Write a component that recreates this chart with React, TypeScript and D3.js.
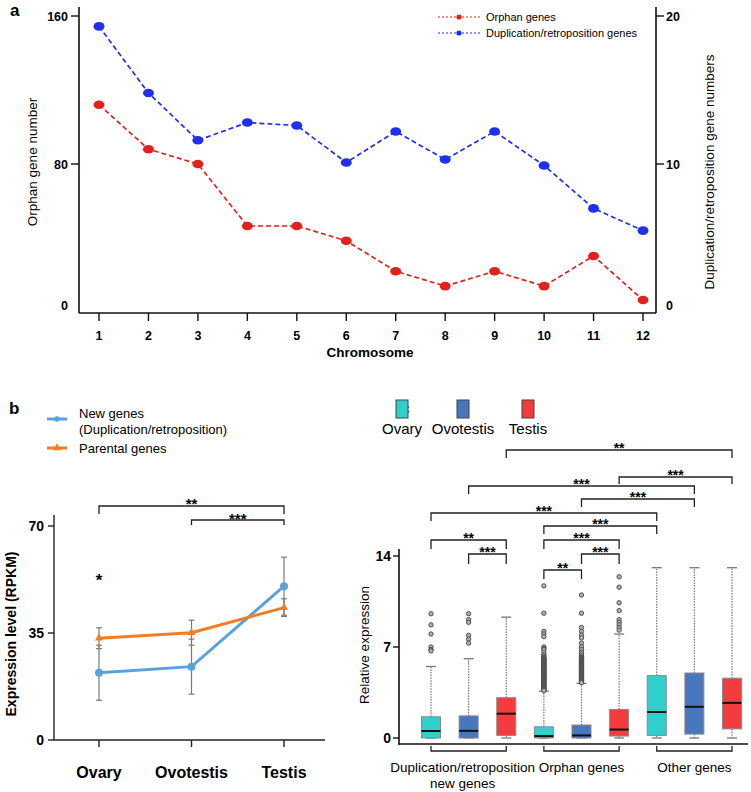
import React from 'react';
import * as d3 from 'd3';

// ---------- Panel a data ----------
const chromosomes = [1, 2, 3, 4, 5, 6, 7, 8, 9, 10, 11, 12];
const orphanCounts = [112, 88, 80, 46.5, 46.5, 38.5, 22, 14, 22, 14, 30.3, 6.5];
const dupCounts = [19.3, 14.8, 11.6, 12.8, 12.6, 10.1, 12.2, 10.3, 12.2, 9.9, 7.0, 5.5];
const leftTicks = [0, 80, 160];
const rightTicks = [0, 10, 20];

// ---------- Panel b data ----------
const tissues = ['Ovary', 'Ovotestis', 'Testis'];
const newGeneMean = [22, 24, 50.3];
const newGeneErr = [9, 9, 9.5];
const parentalMean = [33.3, 35.1, 43.3];
const parentalErr = [3.4, 4.1, 2.9];
const bTicks = [0, 35, 70];

// ---------- Panel c data ----------
const groupNames = [['Duplication/retroposition', 'new genes'], ['Orphan genes'], ['Other genes']];
const boxTissue = [0, 1, 2, 0, 1, 2, 0, 1, 2];
const boxQ1 = [0, 0, 0.2, 0, 0, 0.15, 0.2, 0.3, 0.7];
const boxMedian = [0.54, 0.55, 1.87, 0.15, 0.2, 0.65, 2.0, 2.4, 2.7];
const boxQ3 = [1.63, 1.7, 3.1, 0.86, 1.0, 2.2, 4.8, 5.0, 4.6];
const boxLow = [0, 0, 0, 0, 0, 0, 0, 0, 0];
const boxHigh = [5.5, 6.1, 9.3, 3.6, 4.2, 8.0, 13.1, 13.1, 13.1];
const boxOutliers = [
  [9.56, 8.7, 8.0, 7.0, 6.8, 6.7],
  [9.56, 9.1, 8.9, 7.9, 7.6, 7.3],
  [],
  [11.7, 9.6, 8.2, 8.0, 7.8, 7.0, 6.9, 6.8, 6.6, 6.4, 6.3, 6.2, 6.15, 6.1, 6.05, 6.0, 5.95, 5.9, 5.85, 5.8, 5.75,
    5.7, 5.65, 5.6, 5.55, 5.5, 5.45, 5.4, 5.35, 5.3, 5.25, 5.2, 5.15, 5.1, 5.05, 5.0, 4.95, 4.9, 4.85, 4.8, 4.75,
    4.7, 4.65, 4.6, 4.55, 4.5, 4.45, 4.4, 4.35, 4.3, 4.25, 4.2, 4.15, 4.1, 4.05, 4.0, 3.95, 3.9, 3.85, 3.8, 3.75,
    3.7, 3.65],
  [11.0, 9.6, 8.5, 8.2, 7.9, 7.7, 7.3, 7.0, 6.8, 6.6, 6.45, 6.3, 6.2, 6.15, 6.1, 6.05, 6.0, 5.95, 5.9, 5.85, 5.8,
    5.75, 5.7, 5.65, 5.6, 5.55, 5.5, 5.45, 5.4, 5.35, 5.3, 5.25, 5.2, 5.15, 5.1, 5.05, 5.0, 4.95, 4.9, 4.85, 4.8,
    4.75, 4.7, 4.65, 4.6, 4.55, 4.5, 4.45, 4.4, 4.35, 4.3, 4.25],
  [12.4, 11.6, 10.4, 9.8, 9.1, 8.9, 8.7, 8.5, 8.3],
  [],
  [],
  [],
];
const cTicks = [0, 7, 14];
const sigFrom = [2, 5, 1, 4, 0, 3, 0, 3, 1, 4, 3];
const sigTo = [8, 8, 7, 7, 6, 6, 2, 5, 2, 5, 4];
const sigLabel = ['**', '***', '***', '***', '***', '***', '**', '***', '***', '***', '**'];

const FONT = 'Arial, "Liberation Sans", Helvetica, sans-serif';
const RED = '#e3211c';
const BLUE = '#1f2ff0';
const NEW_BLUE = '#5aa2dc';
const ORANGE = '#f47c22';
const TISSUE_COLORS = ['#2fcfcc', '#4877bd', '#f43b3d'];

function PanelA() {
  const x = d3.scaleLinear().domain([1, 12]).range([99, 643]);
  const yL = d3.scaleLinear().domain([0, 160]).range([312, 16]);
  const yR = d3.scaleLinear().domain([0, 20]).range([312, 16]);
  const lineL = d3.line<number>().x((_, i) => x(chromosomes[i])).y((d) => yL(d));
  const lineR = d3.line<number>().x((_, i) => x(chromosomes[i])).y((d) => yR(d));
  return (
    <g fontFamily={FONT}>
      <text x={10} y={16} fontSize={17} fontWeight="bold">a</text>
      {/* axes */}
      <line x1={79} y1={7} x2={79} y2={313} stroke="#111" strokeWidth={1.6} />
      <line x1={656} y1={7} x2={656} y2={313} stroke="#111" strokeWidth={1.6} />
      <line x1={79} y1={313} x2={656} y2={313} stroke="#111" strokeWidth={1.6} />
      {leftTicks.map((t) => (
        <g key={'l' + t}>
          {t !== 0 && <line x1={71} x2={79} y1={yL(t)} y2={yL(t)} stroke="#111" strokeWidth={1.4} />}
          <text x={68} y={(t === 0 ? yL(t) - 7 : yL(t)) + 4.5} fontSize={12.5} fontWeight="bold" textAnchor="end">{t}</text>
        </g>
      ))}
      {rightTicks.map((t) => (
        <g key={'r' + t}>
          {t !== 0 && <line x1={656} x2={664} y1={yR(t)} y2={yR(t)} stroke="#111" strokeWidth={1.4} />}
          <text x={666} y={(t === 0 ? yR(t) - 7 : yR(t)) + 4.5} fontSize={12.5} fontWeight="bold">{t}</text>
        </g>
      ))}
      {chromosomes.map((c) => (
        <g key={'x' + c}>
          <line x1={x(c)} x2={x(c)} y1={313} y2={321} stroke="#111" strokeWidth={1.4} />
          <text x={x(c)} y={340} fontSize={12.5} fontWeight="bold" textAnchor="middle">{c}</text>
        </g>
      ))}
      <text x={370} y={357} fontSize={13.5} fontWeight="bold" textAnchor="middle">Chromosome</text>
      <text transform="translate(37,162) rotate(-90)" fontSize={13.5} textAnchor="middle">Orphan gene number</text>
      <text transform="translate(714,172) rotate(-90)" fontSize={13.5} textAnchor="middle">Duplication/retroposition gene numbers</text>
      {/* lines */}
      <path d={lineR(dupCounts) || ''} fill="none" stroke={BLUE} strokeWidth={1.7} strokeDasharray="5,3" />
      <path d={lineL(orphanCounts) || ''} fill="none" stroke={RED} strokeWidth={1.7} strokeDasharray="5,3" />
      {dupCounts.map((d, i) => (
        <ellipse key={'db' + i} cx={x(chromosomes[i])} cy={yR(d)} rx={5.5} ry={4.3} fill={BLUE} />
      ))}
      {orphanCounts.map((d, i) => (
        <ellipse key={'or' + i} cx={x(chromosomes[i])} cy={yL(d)} rx={5.5} ry={4.3} fill={RED} />
      ))}
      {/* legend */}
      <line x1={438} x2={480} y1={17} y2={17} stroke={RED} strokeWidth={1.2} strokeDasharray="2,2" />
      <circle cx={459} cy={17} r={2.6} fill={RED} />
      <text x={486} y={21} fontSize={11}>Orphan genes</text>
      <line x1={438} x2={480} y1={33} y2={33} stroke={BLUE} strokeWidth={1.2} strokeDasharray="2,2" />
      <circle cx={459} cy={33} r={2.6} fill={BLUE} />
      <text x={486} y={37} fontSize={11}>Duplication/retroposition genes</text>
    </g>
  );
}

function PanelB() {
  const x = d3.scalePoint<string>().domain(tissues).range([99, 284]);
  const y = d3.scaleLinear().domain([0, 70]).range([740, 526]);
  const line = d3.line<number>().x((_, i) => x(tissues[i]) as number).y((d) => y(d));
  const errBar = (m: number[], e: number[], key: string) =>
    m.map((v, i) => {
      const cx = x(tissues[i]) as number;
      return (
        <g key={key + i} stroke="#7a7a7a" strokeWidth={1.2}>
          <line x1={cx} x2={cx} y1={y(v - e[i])} y2={y(v + e[i])} />
          <line x1={cx - 3} x2={cx + 3} y1={y(v - e[i])} y2={y(v - e[i])} />
          <line x1={cx - 3} x2={cx + 3} y1={y(v + e[i])} y2={y(v + e[i])} />
        </g>
      );
    });
  const tri = d3.symbol().type(d3.symbolTriangle).size(28)();
  return (
    <g fontFamily={FONT}>
      <text x={9} y={414} fontSize={17} fontWeight="bold">b</text>
      {/* legend */}
      <line x1={47} x2={67} y1={419} y2={419} stroke={NEW_BLUE} strokeWidth={3} />
      <circle cx={57} cy={419} r={2.8} fill={NEW_BLUE} />
      <text x={79} y={418} fontSize={13}>New genes</text>
      <text x={79} y={434} fontSize={13}>(Duplication/retroposition)</text>
      <line x1={47} x2={67} y1={448} y2={448} stroke={ORANGE} strokeWidth={3} />
      <path d={tri || ''} transform="translate(57,448)" fill={ORANGE} />
      <text x={79} y={453} fontSize={13}>Parental genes</text>
      {/* axes */}
      <line x1={54} x2={54} y1={515} y2={740} stroke="#222" strokeWidth={1.4} />
      <line x1={54} x2={325} y1={740} y2={740} stroke="#222" strokeWidth={1.4} />
      {bTicks.map((t) => (
        <g key={'bt' + t}>
          <line x1={48} x2={54} y1={y(t)} y2={y(t)} stroke="#222" strokeWidth={1.4} />
          <text x={44} y={y(t) + 5} fontSize={14} fontWeight="bold" textAnchor="end">{t}</text>
        </g>
      ))}
      {tissues.map((t) => (
        <g key={'bx' + t}>
          <line x1={x(t) as number} x2={x(t) as number} y1={740} y2={747} stroke="#222" strokeWidth={1.4} />
          <text x={x(t) as number} y={778} fontSize={16} fontWeight="bold" textAnchor="middle">{t}</text>
        </g>
      ))}
      <text transform="translate(16,634) rotate(-90)" fontSize={14} fontWeight="bold" textAnchor="middle">Expression level (RPKM)</text>
      {/* error bars */}
      {errBar(newGeneMean, newGeneErr, 'ne')}
      {errBar(parentalMean, parentalErr, 'pe')}
      <path d={line(newGeneMean) || ''} fill="none" stroke={NEW_BLUE} strokeWidth={3} />
      <path d={line(parentalMean) || ''} fill="none" stroke={ORANGE} strokeWidth={3} />
      {newGeneMean.map((v, i) => (
        <circle key={'nc' + i} cx={x(tissues[i]) as number} cy={y(v)} r={4} fill={NEW_BLUE} />
      ))}
      {parentalMean.map((v, i) => (
        <path key={'pt' + i} d={tri || ''} transform={`translate(${x(tissues[i])},${y(v)})`} fill={ORANGE} />
      ))}
      {/* significance */}
      <text x={x('Ovary') as number} y={586} fontSize={17} fontWeight="bold" textAnchor="middle">*</text>
      <g stroke="#222" strokeWidth={1.3} fill="none">
        <path d={`M${x('Ovary')},514V506H${x('Testis')}V514`} />
        <path d={`M${x('Ovotestis')},525V520H${x('Testis')}V525`} />
      </g>
      <text x={((x('Ovary') as number) + (x('Testis') as number)) / 2} y={509} fontSize={15} fontWeight="bold" textAnchor="middle">**</text>
      <text x={((x('Ovotestis') as number) + (x('Testis') as number)) / 2} y={524} fontSize={15} fontWeight="bold" textAnchor="middle">***</text>
    </g>
  );
}

function PanelC() {
  const x = d3.scaleLinear().domain([0, 8]).range([431, 732]);
  const y = d3.scaleLinear().domain([0, 14]).range([738, 556]);
  const bw = 19;
  const sigY = [450, 477, 486, 499, 513, 526, 540, 540, 554, 554, 570];
  const sigTick = [8, 7, 8, 8, 8, 8, 9, 9, 10, 10, 9];
  const legendX = [402, 463, 528];
  return (
    <g fontFamily={FONT}>
      <text x={400} y={414} fontSize={17} fontWeight="bold">c</text>
      {/* legend */}
      {tissues.map((t, i) => (
        <g key={'cl' + t}>
          <rect x={legendX[i] - 6} y={400} width={12} height={18} fill={TISSUE_COLORS[i]} stroke="#444" strokeWidth={1} />
          <text x={legendX[i]} y={434} fontSize={15} textAnchor="middle">{t}</text>
        </g>
      ))}
      {/* axes */}
      <line x1={399} x2={399} y1={549} y2={745} stroke="#111" strokeWidth={1.6} />
      <line x1={399} x2={748} y1={744} y2={744} stroke="#111" strokeWidth={1.6} />
      {cTicks.map((t) => (
        <g key={'ct' + t}>
          <line x1={393} x2={399} y1={y(t)} y2={y(t)} stroke="#111" strokeWidth={1.4} />
          <text x={391} y={y(t) + 5} fontSize={14} fontWeight="bold" textAnchor="end">{t}</text>
        </g>
      ))}
      <text transform="translate(369,645) rotate(-90)" fontSize={13.5} textAnchor="middle">Relative expression</text>
      {/* boxes */}
      {boxQ1.map((q1, i) => {
        const cx = x(i);
        return (
          <g key={'bx' + i}>
            <line x1={cx} x2={cx} y1={y(boxQ3[i])} y2={y(boxHigh[i])} stroke="#777" strokeWidth={1.2} strokeDasharray="1.5,1.2" />
            <line x1={cx} x2={cx} y1={y(q1)} y2={y(boxLow[i])} stroke="#777" strokeWidth={1.2} strokeDasharray="1.5,1.2" />
            <line x1={cx - 5} x2={cx + 5} y1={y(boxHigh[i])} y2={y(boxHigh[i])} stroke="#777" strokeWidth={1.3} />
            <line x1={cx - 5} x2={cx + 5} y1={y(boxLow[i])} y2={y(boxLow[i])} stroke="#777" strokeWidth={1.3} />
            <rect x={cx - bw / 2} y={y(boxQ3[i])} width={bw} height={Math.max(0.5, y(q1) - y(boxQ3[i]))}
              fill={TISSUE_COLORS[boxTissue[i]]} stroke="#8a8a8a" strokeWidth={1} />
            <line x1={cx - bw / 2} x2={cx + bw / 2} y1={y(boxMedian[i])} y2={y(boxMedian[i])} stroke="#111" strokeWidth={2} />
            {boxOutliers[i].map((o, j) => (
              <circle key={'o' + j} cx={cx} cy={y(o)} r={2.2} fill="#b0b0b0" stroke="#444" strokeWidth={0.9} />
            ))}
          </g>
        );
      })}
      {/* group brackets */}
      {groupNames.map((g, gi) => {
        const x0 = x(gi * 3);
        const x1 = x(gi * 3 + 2);
        const cx = (x0 + x1) / 2;
        return (
          <g key={'gb' + gi}>
            <path d={`M${x0},746V751H${x1}V746`} fill="none" stroke="#222" strokeWidth={1.3} />
            {g.map((line, li) => (
              <text key={li} x={gi === 0 ? cx - 6 : cx} y={772 + li * 16} fontSize={13.5} textAnchor="middle">{line}</text>
            ))}
          </g>
        );
      })}
      {/* significance brackets */}
      {sigFrom.map((f, i) => {
        const x0 = x(f);
        const x1 = x(sigTo[i]);
        return (
          <g key={'sg' + i}>
            <path d={`M${x0},${sigY[i] + sigTick[i]}V${sigY[i]}H${x1}V${sigY[i] + sigTick[i]}`} fill="none" stroke="#222" strokeWidth={1.3} />
            <text x={(x0 + x1) / 2} y={sigY[i] + 3} fontSize={14} fontWeight="bold" textAnchor="middle">{sigLabel[i]}</text>
          </g>
        );
      })}
    </g>
  );
}

export default function App() {
  return (
    <svg width={751} height={792} viewBox="0 0 751 792"
      style={{ position: 'absolute', left: 0, top: 0, background: '#fff' }}>
      <rect width={751} height={792} fill="#fff" />
      <PanelA />
      <PanelB />
      <PanelC />
    </svg>
  );
}
